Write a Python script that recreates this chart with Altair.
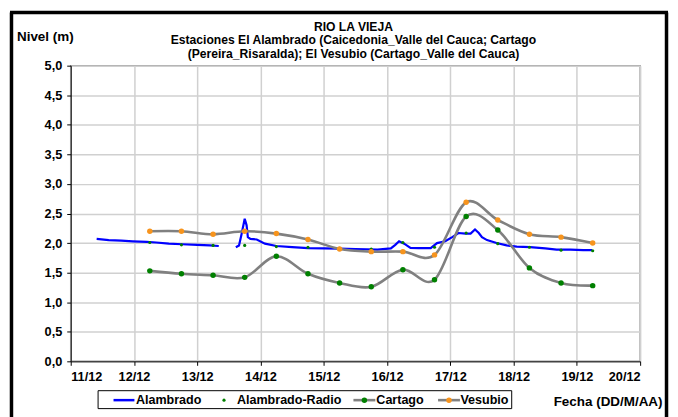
import altair as alt
import pandas as pd

# ---------------- data ----------------
# Alambrado: continuous record, two segments (gap around 13.4-13.6 Dec)
alam1_dia = [11.41, 11.60, 11.80, 11.98, 12.20, 12.35, 12.55, 12.76, 13.00, 13.20, 13.34]
alam1_nivel = [2.07, 2.05, 2.04, 2.03, 2.02, 2.01, 1.99, 1.98, 1.97, 1.96, 1.95]
alam2_dia = [13.61, 13.66, 13.70, 13.75, 13.78, 13.80, 13.84, 13.94, 14.07, 14.25, 14.50,
             14.75, 15.00, 15.25, 15.50, 15.85, 16.06, 16.13, 16.19, 16.27, 16.37, 16.50,
             16.69, 16.79, 16.92, 17.03, 17.13, 17.24, 17.32, 17.39, 17.45, 17.50, 17.58,
             17.73, 17.89, 18.05, 18.26, 18.50, 18.68, 18.90, 19.10, 19.24]
alam2_nivel = [1.93, 1.96, 2.15, 2.41, 2.30, 2.10, 2.07, 2.06, 1.99, 1.95, 1.93,
               1.915, 1.91, 1.905, 1.90, 1.89, 1.91, 1.97, 2.03, 1.99, 1.92, 1.915,
               1.915, 2.00, 2.03, 2.10, 2.17, 2.16, 2.16, 2.23, 2.17, 2.10, 2.05,
               2.00, 1.96, 1.94, 1.93, 1.91, 1.89, 1.89, 1.88, 1.88]

# twice-daily readings (06:00 and 18:00)
obs_dia = [12.25, 12.75, 13.25, 13.75, 14.25, 14.75, 15.25, 15.75,
           16.25, 16.75, 17.25, 17.75, 18.25, 18.75, 19.25]
radio_nivel = [2.01, 1.97, 1.96, 1.96, 1.94, 1.93, 1.91, 1.90,
               2.01, 1.93, 2.17, 1.99, 1.93, 1.88, 1.87]
cartago_nivel = [1.53, 1.48, 1.455, 1.42, 1.776, 1.48, 1.325, 1.26,
                 1.55, 1.38, 2.45, 2.22, 1.58, 1.325, 1.28]
vesubio_nivel = [2.20, 2.20, 2.15, 2.20, 2.16, 2.06, 1.90, 1.855,
                 1.855, 1.80, 2.69, 2.39, 2.15, 2.10, 2.00]

x_ticks = [11, 12, 13, 14, 15, 16, 17, 18, 19, 20]
y_ticks = [0.0, 0.5, 1.0, 1.5, 2.0, 2.5, 3.0, 3.5, 4.0, 4.5, 5.0]

titulo = ["RIO LA VIEJA",
          "Estaciones El Alambrado (Caicedonia_Valle del Cauca; Cartago",
          "(Pereira_Risaralda);  El Vesubio (Cartago_Valle del Cauca)"]

# ---------------- tables ----------------
alam = pd.DataFrame({
    "dia": alam1_dia + alam2_dia,
    "nivel": alam1_nivel + alam2_nivel,
    "tramo": [1] * len(alam1_dia) + [2] * len(alam2_dia),
})
radio = pd.DataFrame({"dia": obs_dia, "nivel": radio_nivel})
cartago = pd.DataFrame({"dia": obs_dia, "nivel": cartago_nivel})
vesubio = pd.DataFrame({"dia": obs_dia, "nivel": vesubio_nivel})
one = pd.DataFrame({"a": [0]})

FONT = "Liberation Sans"
BLUE = "#0000FF"
GREEN = "#008000"
ORANGE = "#F7941D"
GRAY = "#808080"
LEG_FS = 12.6

X = alt.X("dia:Q",
          scale=alt.Scale(domain=[11, 20], nice=False, zero=False),
          axis=alt.Axis(values=x_ticks, labelExpr="datum.value + '/12'",
                        title="Fecha (DD/M/AA)", titleAnchor="end",
                        titleAlign="right", titleBaseline="middle",
                        titleX=594, titleY=40))
Y = alt.Y("nivel:Q",
          scale=alt.Scale(domain=[0, 5], nice=False, zero=True),
          axis=alt.Axis(values=y_ticks,
                        labelExpr="replace(format(datum.value, '.1f'), '.', ',')",
                        title="Nivel (m)", titleAngle=0, titleAlign="center",
                        titleBaseline="middle", titleX=-26, titleY=-29))

# ---------------- outer frame ----------------
frame_left = alt.Chart(one).mark_rule(color="black", strokeWidth=3.5).encode(
    x=alt.value(-59.5), y=alt.value(-53.5), y2=alt.value(360))
frame_right = alt.Chart(one).mark_rule(color="black", strokeWidth=3.5).encode(
    x=alt.value(598.5), y=alt.value(-53.5), y2=alt.value(360))
frame_top = alt.Chart(one).mark_rule(color="black", strokeWidth=3.5).encode(
    x=alt.value(-61), x2=alt.value(600), y=alt.value(-53.5))

# ---------------- chart title (three centred lines) ----------------
title_txt = alt.Chart(one).mark_text(
    text=titulo, align="center", baseline="middle", font=FONT, fontSize=12.2,
    fontWeight="bold", color="black", lineHeight=13.7).encode(
    x=alt.value(284), y=alt.value(-39))

# ---------------- series ----------------
alam_line = alt.Chart(alam).mark_line(color=BLUE, strokeWidth=2.2).encode(
    x=X, y=Y, detail="tramo:N")
radio_pts = alt.Chart(radio).mark_point(filled=True, color=GREEN, size=10, opacity=1).encode(
    x=X, y=Y)
cart_line = alt.Chart(cartago).mark_line(color=GRAY, strokeWidth=2.6, interpolate="cardinal").encode(
    x=X, y=Y)
cart_pts = alt.Chart(cartago).mark_point(filled=True, color=GREEN, size=30, opacity=1).encode(
    x=X, y=Y)
ves_line = alt.Chart(vesubio).mark_line(color=GRAY, strokeWidth=2.6, interpolate="cardinal").encode(
    x=X, y=Y)
ves_pts = alt.Chart(vesubio).mark_point(filled=True, color=ORANGE, size=30, opacity=1).encode(
    x=X, y=Y)

# ---------------- legend (manual, Excel style) ----------------
LY = 336
leg_box = alt.Chart(one).mark_rect(fill="white", stroke="black", strokeWidth=1).encode(
    x=alt.value(27.5), x2=alt.value(443), y=alt.value(326.5), y2=alt.value(344.5))
leg_alam = alt.Chart(one).mark_rule(color=BLUE, strokeWidth=2.5).encode(
    x=alt.value(43), x2=alt.value(64), y=alt.value(LY))
leg_radio = alt.Chart(one).mark_point(filled=True, color=GREEN, size=10, opacity=1).encode(
    x=alt.value(154), y=alt.value(LY))
leg_cart_l = alt.Chart(one).mark_rule(color=GRAY, strokeWidth=2.6).encode(
    x=alt.value(284), x2=alt.value(306), y=alt.value(LY))
leg_cart_p = alt.Chart(one).mark_point(filled=True, color=GREEN, size=30, opacity=1).encode(
    x=alt.value(295), y=alt.value(LY))
leg_ves_l = alt.Chart(one).mark_rule(color=GRAY, strokeWidth=2.6).encode(
    x=alt.value(369), x2=alt.value(391), y=alt.value(LY))
leg_ves_p = alt.Chart(one).mark_point(filled=True, color=ORANGE, size=30, opacity=1).encode(
    x=alt.value(380), y=alt.value(LY))

def leg_text(label, xpos):
    return alt.Chart(one).mark_text(
        text=label, align="left", baseline="middle", font=FONT,
        fontSize=LEG_FS, fontWeight="bold", color="black").encode(
        x=alt.value(xpos), y=alt.value(LY))

legend = [leg_box, leg_alam, leg_radio, leg_cart_l, leg_cart_p, leg_ves_l, leg_ves_p,
          leg_text("Alambrado", 65.5), leg_text("Alambrado-Radio", 167),
          leg_text("Cartago", 307), leg_text("Vesubio", 391.5)]

chart = alt.layer(
    frame_left, frame_right, frame_top, title_txt,
    alam_line, radio_pts, cart_line, cart_pts, ves_line, ves_pts,
    *legend,
).properties(
    width=572, height=297,
    autosize=alt.AutoSizeParams(type="none"),
    padding={"left": 63, "top": 57, "right": 30, "bottom": 55},
).configure_view(
    stroke="#9A9A9A", strokeWidth=1.5,
).configure_axis(
    labelFont=FONT, labelFontSize=12.8, labelFontWeight="bold", labelColor="black",
    titleFont=FONT, titleFontSize=13.5, titleFontWeight="bold", titleColor="black",
    domainColor="black", domainWidth=1, tickColor="black", tickSize=4, tickWidth=1,
    gridColor="#D0D0D0", gridWidth=1.5, labelPadding=5,
).configure_axisX(
    labelBaseline="top",
)

chart.save("out.html", embed_options={"renderer": "svg", "actions": False})
